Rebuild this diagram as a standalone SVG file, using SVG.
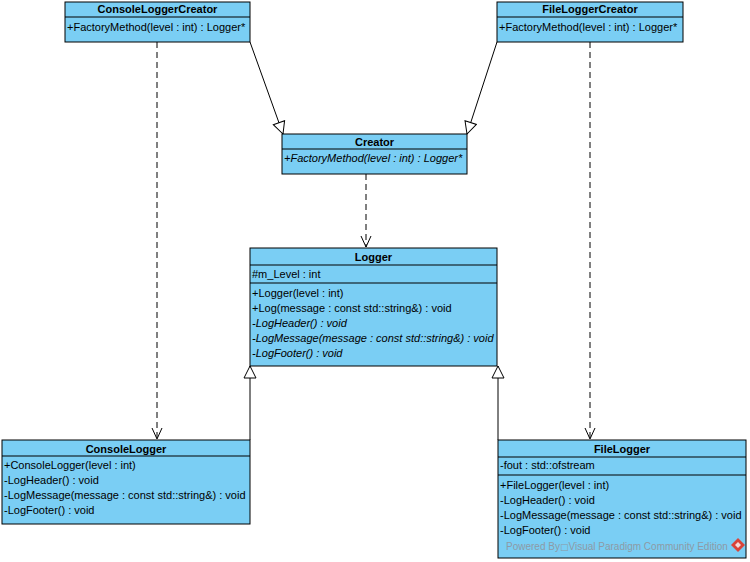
<svg xmlns="http://www.w3.org/2000/svg" width="750" height="562" viewBox="0 0 750 562">
  <style>
    .box { fill: #7acef4; stroke: #000; stroke-width: 1; }
    .sep { stroke: #000; stroke-width: 1; }
    .name { font-family: "Liberation Sans", Arial, sans-serif; font-size: 11px; font-weight: bold; fill: #000; text-anchor: middle; }
    .mem { font-family: "Liberation Sans", Arial, sans-serif; font-size: 11px; fill: #000; }
    .abs { font-style: italic; }
    .dep { stroke: #000; stroke-width: 1; fill: none; stroke-dasharray: 6 4; }
    .gen { stroke: #000; stroke-width: 1; fill: none; }
    .wm { font-family: "Liberation Sans", Arial, sans-serif; font-size: 10px; fill: #8d9aa6; }
    .sq { font-family: "DejaVu Sans", sans-serif; font-size: 9px; }
  </style>
  <defs>
    <marker id="open" viewBox="0 0 12 12" refX="11" refY="6" markerWidth="12" markerHeight="12" markerUnits="userSpaceOnUse" orient="auto">
      <path d="M0,1 L11,6 L0,11" fill="none" stroke="#000" stroke-width="1"/>
    </marker>
    <marker id="tri" viewBox="0 0 14 14" refX="13" refY="7" markerWidth="14" markerHeight="14" markerUnits="userSpaceOnUse" orient="auto">
      <path d="M1,1 L13,7 L1,13 Z" fill="#fff" stroke="#000" stroke-width="1"/>
    </marker>
  </defs>
  <rect width="750" height="562" fill="#fff"/>

  <g id="connectors">
    <line class="dep" x1="157" y1="42" x2="157" y2="439" marker-end="url(#open)"/>
    <line class="dep" x1="590" y1="42" x2="590" y2="439" marker-end="url(#open)"/>
    <line class="dep" x1="366" y1="174" x2="366" y2="247" marker-end="url(#open)"/>
    <line class="gen" x1="250" y1="42" x2="283" y2="134" marker-end="url(#tri)"/>
    <line class="gen" x1="497" y1="42" x2="467" y2="134" marker-end="url(#tri)"/>
    <line class="gen" x1="250" y1="440" x2="250" y2="366" marker-end="url(#tri)"/>
    <line class="gen" x1="498" y1="440" x2="498" y2="366" marker-end="url(#tri)"/>
  </g>

  <g id="ConsoleLoggerCreator">
    <rect class="box" x="65" y="2" width="185" height="40"/>
    <line class="sep" x1="65" y1="17" x2="250" y2="17"/>
    <text class="name" x="157.5" y="13">ConsoleLoggerCreator</text>
    <text class="mem" x="67" y="31">+FactoryMethod(level : int) : Logger*</text>
  </g>

  <g id="FileLoggerCreator">
    <rect class="box" x="497" y="2" width="186" height="40"/>
    <line class="sep" x1="497" y1="17" x2="683" y2="17"/>
    <text class="name" x="590" y="13">FileLoggerCreator</text>
    <text class="mem" x="499" y="31">+FactoryMethod(level : int) : Logger*</text>
  </g>

  <g id="Creator">
    <rect class="box" x="282" y="134" width="185" height="40"/>
    <line class="sep" x1="282" y1="149" x2="467" y2="149"/>
    <text class="name" x="374.5" y="146">Creator</text>
    <text class="mem abs" x="284" y="162">+FactoryMethod(level : int) : Logger*</text>
  </g>

  <g id="Logger">
    <rect class="box" x="250" y="248" width="247" height="118"/>
    <line class="sep" x1="250" y1="265" x2="497" y2="265"/>
    <line class="sep" x1="250" y1="283" x2="497" y2="283"/>
    <text class="name" x="373.5" y="261">Logger</text>
    <text class="mem" x="252" y="278">#m_Level : int</text>
    <text class="mem" x="252" y="297">+Logger(level : int)</text>
    <text class="mem" x="252" y="312">+Log(message : const std::string&amp;) : void</text>
    <text class="mem abs" x="252" y="327">-LogHeader() : void</text>
    <text class="mem abs" x="252" y="342">-LogMessage(message : const std::string&amp;) : void</text>
    <text class="mem abs" x="252" y="357">-LogFooter() : void</text>
  </g>

  <g id="ConsoleLogger">
    <rect class="box" x="2" y="440" width="248" height="84"/>
    <line class="sep" x1="2" y1="456" x2="250" y2="456"/>
    <text class="name" x="126" y="453">ConsoleLogger</text>
    <text class="mem" x="4" y="469">+ConsoleLogger(level : int)</text>
    <text class="mem" x="4" y="484">-LogHeader() : void</text>
    <text class="mem" x="4" y="499">-LogMessage(message : const std::string&amp;) : void</text>
    <text class="mem" x="4" y="514">-LogFooter() : void</text>
  </g>

  <g id="FileLogger">
    <rect class="box" x="498" y="440" width="248" height="118"/>
    <line class="sep" x1="498" y1="457" x2="746" y2="457"/>
    <line class="sep" x1="498" y1="475" x2="746" y2="475"/>
    <text class="name" x="622" y="453">FileLogger</text>
    <text class="mem" x="500" y="469">-fout : std::ofstream</text>
    <text class="mem" x="500" y="489">+FileLogger(level : int)</text>
    <text class="mem" x="500" y="504">-LogHeader() : void</text>
    <text class="mem" x="500" y="519">-LogMessage(message : const std::string&amp;) : void</text>
    <text class="mem" x="500" y="534">-LogFooter() : void</text>
    <text class="wm" x="506" y="550">Powered By<tspan class="sq">□</tspan>Visual Paradigm Community Edition</text>
    <path d="M738,538 L745,545 L738,552 L731,545 Z" fill="#d9443a"/>
    <path d="M738,542 L741,545 L738,548 L735,545 Z" fill="#fff" opacity="0.8"/>
  </g>
</svg>
